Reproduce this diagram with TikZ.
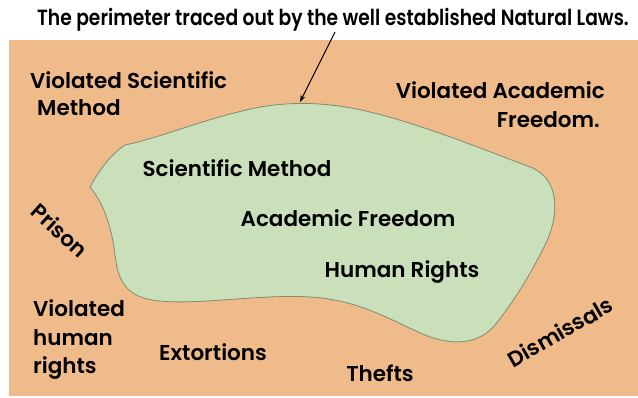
\documentclass[tikz,border=0pt]{standalone}
\usepackage{fontspec}
\setmainfont{Poppins SemiBold}
\usetikzlibrary{arrows.meta}
\definecolor{peach}{HTML}{F0BB8A}
\definecolor{leaf}{HTML}{C9E0BA}
\definecolor{rim}{HTML}{7E8C72}
\tikzset{
  lbl/.style={font=\fontsize{21.5}{26}\selectfont, text=black, inner sep=0pt},
  lblleft/.style={lbl, anchor=west},
}
\begin{document}
\begin{tikzpicture}[x=1pt,y=-1pt]
  \useasboundingbox (0,0) rectangle (638,398);
  \fill[white] (0,0) rectangle (638,398);
  % outer region
  \fill[peach] (9,40) rectangle (638,396);
  % inner region bounded by the natural laws
  \draw[rim, fill=leaf, line width=0.8pt]
    (125,145)
    .. controls (160,138) and (200,120) .. (255,108)
    .. controls (290,101) and (330,102) .. (370,112)
    .. controls (420,124) and (480,148) .. (530,167)
    .. controls (560,178) and (560,215) .. (545,245)
    .. controls (530,275) and (515,300) .. (495,325)
    .. controls (480,343) and (455,347) .. (425,335)
    .. controls (390,320) and (360,300) .. (310,297)
    .. controls (260,294) and (200,305) .. (160,301)
    .. controls (125,298) and (118,280) .. (115,255)
    .. controls (112,230) and (105,205) .. (90,187)
    .. controls (98,172) and (110,155) .. (125,145)
    -- cycle;
  % title and pointer
  \node[lbl, font=\fontsize{22}{26}\selectfont, xscale=0.85] (title) at (333,20) {The perimeter traced out by the well established Natural Laws.};
  \coordinate (tip) at (300,102);
  \coordinate (tail) at (335,32);
  \draw[-{Stealth[length=7pt,width=5pt]}, line width=1pt] (tail) -- (tip);
  % labels outside
  \node[lblleft] (vsm1) at (30,80) {Violated Scientific};
  \node[lblleft] (vsm2) at (37,108) {Method};
  \node[lbl, anchor=east] (vaf1) at (605,90) {Violated Academic};
  \node[lbl, anchor=east] (vaf2) at (600,120) {Freedom.};
  \node[lbl, rotate=-42] (prison) at (60,230) {Prison};
  \node[lblleft] (vhr1) at (33,308) {Violated};
  \node[lblleft] (vhr2) at (33,338) {human};
  \node[lblleft] (vhr3) at (33,368) {rights};
  \node[lbl] (ext) at (213,352) {Extortions};
  \node[lbl] (thefts) at (380,373) {Thefts};
  \node[lbl, rotate=30] (dism) at (560,332) {Dismissals};
  % labels inside
  \node[lbl] (sm) at (237,168) {Scientific Method};
  \node[lbl] (af) at (348,218) {Academic Freedom};
  \node[lbl] (hr) at (402,272) {Human Rights};
\end{tikzpicture}
\end{document}
